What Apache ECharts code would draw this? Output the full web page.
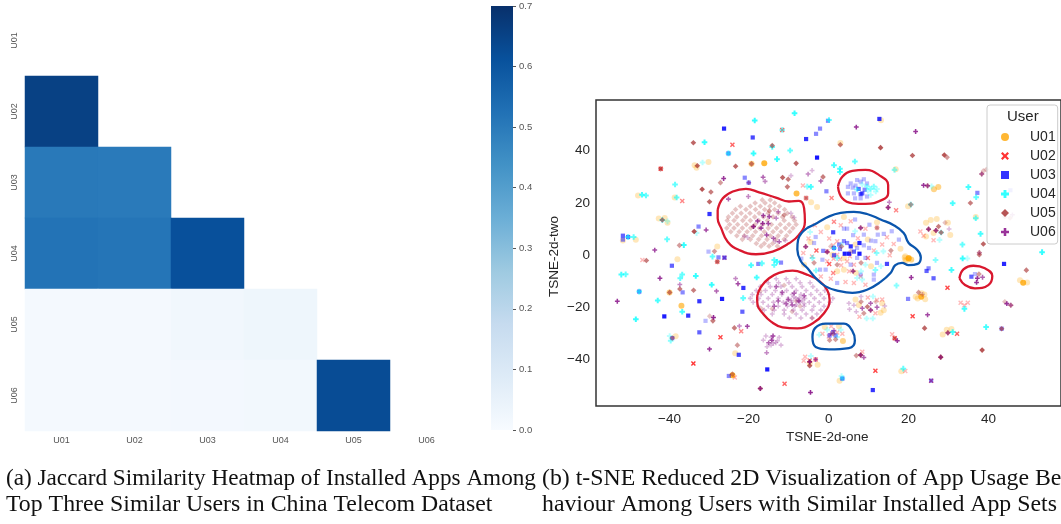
<!DOCTYPE html>
<html><head><meta charset="utf-8">
<style>html,body{margin:0;padding:0;background:#fff;overflow:hidden}#c{width:1061px;height:524px}</style>
<script src="https://cdn.jsdelivr.net/npm/echarts@6/dist/echarts.min.js"></script>
</head><body><div id="c"></div>
<script>
const users = ['U01','U02','U03','U04','U05','U06'];
const colorbarTop = [0.7];
const blues = ['#f7fbff','#deebf7','#c6dbef','#9ecae1','#6baed6','#4292c6','#2171b5','#08519c','#08306b'];
// row user, column user, Jaccard similarity
const jaccard = [
 ['U01','U02',0.655],
 ['U01','U03',0.505],['U02','U03',0.5],
 ['U01','U04',0.52],['U02','U04',0.515],['U03','U04',0.615],
 ['U01','U05',0.012],['U02','U05',0.012],['U03','U05',0.022],['U04','U05',0.03],
 ['U01','U06',0.01],['U02','U06',0.01],['U03','U06',0.015],['U04','U06',0.018],['U05','U06',0.625]
];
// t-SNE points: [one, two, overlapping duplicates]
const u01 = [[-16,34.7,5],[-19.2,34.5,2],[-30,35.2],[-33.5,34],[-33,33],[-47.7,22.4],[-38.5,21.6],[-39.8,-14.7,2],[-36.8,-19.8,3],[-7.9,23.2,4],[-4.25,19.8],[-2.75,18],[3.1,42.5],[13.3,51.2],[-42.5,13.6],[-41,13.8],[-40.3,12],[-48.25,5.4],[-51.5,5.2],[-27.8,2.9],[-37.8,-2],[-38.25,-31.5],[-23.3,-38],[-24,-46.4,5],[2.9,-48.5],[-2.6,-42.4],[-4.6,-41.8],[20.25,-1.7,4],[19.25,-1.3],[19.6,-2.6],[20.9,-2.1],[49,-11,5],[48.2,-10.1],[50,-10.9],[23.4,-16.4,5],[22,-16.4],[24.2,-15.5],[24.4,-17.3],[22.5,-17],[23.5,-15],[28.8,-30.8],[29.8,-29],[31,-28.7],[26.6,24.8,2],[27.7,25.6,2],[17,32.4],[20.1,18.3],[37.1,14.2],[18.4,-44.9],
 [24.6,12],[25.8,13],[27.3,13.4],[30.1,12],[30.7,7.3],[24.6,6.7],[26.5,8],
 [6.9,-17.4],[13.6,-18.9],[14,-21.5],[13.2,-22.5],[7.75,-19.5],
 [-0.8,-28],[2.75,-27.7],[3.75,-33.3,2],
 [4,14.2],[12.3,12.1],[18.2,2],[-0.2,10.2],[-6,-4.1],[2.3,-6.6],[4,-6],[10.8,-4.7],[20.25,-1.5,3],[19.4,-2.2],[19.4,-0.9],[20.9,-2.2],[10,5.5],[6.9,3.6],[4,-1.5],[1.1,-0.3],[7,-7.2],[-4.4,4.6]];
const u02 = [[-11.5,47.5,3],[-24,41.8,3],[-42,32.6,4],[-36.6,20.3,2],[-6.3,26.2],[-5.5,21.4,2],[-46.6,-2.3],[-27.8,-3,2],[-26,-1.4,2],[-27,-31.9,4],[-33.8,-41.9,5],[-10.9,-49.7,3],[-21.8,-29.6,2],[-5.75,-39.3],[-4.6,-40.8,2],[-3.1,-40.4,2],[-6.1,-40.9],[11.9,-44.7,4],[19.4,-44.8],[25.9,-48.5,3],[21.25,-23.8,4],[30,-12.9,4],[33.3,-18.7],[35.1,-18.7],[34.25,-19.6],[32.4,-30.5,3],[16.1,-30.7],[16.75,-32.3,4],[8.6,-37.4],[17.1,16.7,2],[0.9,21.4,2],[23.2,8.6],[24,7],[26.5,5.3],[-23.4,-47.3],
 [7.9,-24],[10,-16.7],[11.9,-22.7],[13.6,-17.4],[12.3,-17.6],
 [0.8,-27.7],[2.3,-30.1],[-1.4,-30.5],[3.6,-30.5],[0.2,-31.6],
 [1.5,12.3,2],[3.2,11],[-3.3,11],[9.4,9.7],[-1.8,8.4],[-4.9,5.9],[0.3,5.9],[1.3,3.3],[-2.9,1.3,3],[-6.2,0.4],[-0.2,1],[2.3,-0.3],[0.3,-3.8,3],[1.3,-7.3,2],[-1.8,-8.6],[0.7,-9.5],[4.4,-10.7],[6.5,-11.1],[9.4,-11.8],[4.8,-2.8],[6.5,-4.1],[10,-1.5,2],[5.3,-6.6],[14.8,6.4],[16.5,3.8],[13.6,3.6],[12.3,10],[8.2,-8.6],[3.3,-4.3],[5.7,12.5],[-0.2,-2.8],[11.5,1.3],[2.3,4.9],[3,-2],[5.5,-0.9],[1.4,-1.8],[7.5,6],[15.5,-0.5],[-4,-1]];
const u03 = [[-26.1,48,6],[-18.9,44.6,4],[-5.5,44,5],[-2,48,2],[0,51,2],[-3,46,2],[-25,38.5,3],[-2.75,36.9,8],[12.9,51.7,5],[-20.9,29.2,2],[-19.9,27.3,2],[-0.4,24,2],[-29.75,15.3,5],[-32.5,10.5,2],[-51.5,7,3],[-50.2,6.5,3],[-51.5,5.5,2],[-39.2,-4.5,3],[-30,0.9],[-27.5,-1.3,2],[-26,-1.4,3],[-17.5,-3.8,2],[-11.8,-3.3,2],[-36.5,-14.7,2],[-21.25,-13,5],[-32.3,-18.1,5],[-26.6,-17.2,7],[-47.4,-14.4,3],[-41.1,-23.9,7],[-35.1,-23.6,5],[-21.5,-22.1,3],[-32.3,-30,3],[-39.1,-32.2,2],[-22.4,-38.6,4],[-15.25,-44.2,7],[-24.9,-46.7,2],[-30.75,-25.6],[3.6,-47.7,3],[11.25,-52.1,5],[25.25,-5.5,2],[24.75,-6.5,3],[26.5,-9.3,3],[20.1,-17.2,2],[44.2,-3.8,6],[36,-8.7,3],[36.9,-7.7],[25.9,-48.5,2],[37.5,23.4,2],[45.8,24.4],[43.6,-28.6,2],
 [5,25.7],[5.7,27],[6.2,25.4],[6.5,23.2],[5,23.2],[7.3,28.3],[8.2,27.7],[9,28.6],[9.8,27],[6.8,21.3],[8.2,21.3],[9.8,22],[6.9,26.2],[7.7,24.9,3],[8.6,23.2,3],[8.2,22.9,3],[9.2,24.6,2],
 [1.3,-29.9,2],[0.4,-31.2,2],[1.9,-31.2,2],
 [6.8,13.2],[10.4,11.2],[4,9.7],[1.3,8.3,4],[6.3,7.2],[9,7.4],[-3.1,6.5],[-3.5,4.2],[-6.7,-1.8],[-1.4,-2.2],[-2,-6],[-0.6,-6],[2.3,-11.1],[11.5,-9.8],[11.5,-7.9],[8.2,-7.9],[9.4,-1.5],[17.8,5.5],[16,8.7],[14.8,-3.8,4],[12.3,-3.4],[10.8,5.1],[11.9,4.9],[7.3,2.3],[4.2,0.1,7],[5.3,0.1,7],[7.9,0.1,7],[7.9,4.2,6],[5.7,2.9,5],[4,4.9,2],[2.8,3.6,2],[4.8,4.2,2],[9,3.3],[10.3,2.3],[5.7,-4.1],[7.3,-1.5],[1.5,2.3,3],[1.5,-0.5,3],[4.8,9.7],[14,7.7],[12.5,7.4],[-1.2,1.2,2],[3,1.9,2],[6.5,0.9,3]];
const u04 = [[-8.4,53.9,5],[-18.4,51.1,5],[-31,42.8,5],[-14,41,3],[-25,38.5,3],[-18.7,38.5,5],[-12.8,36.3,5],[-9.5,39.6,3],[-11.5,47.5,2],[-31.5,35],[-38.4,26.6,3],[-46.7,22.7,4],[-45.7,22.4,3],[-38,21.6,3],[-4.3,25.7,4],[-5.2,25.8,2],[0.25,51.3,3],[-50.2,6.5,3],[-48.8,6.5,3],[-40.4,5.6,3],[-36.2,3.4,5],[-41.6,13,3],[-40.3,12.5],[-33,8],[-51.9,-7.9,4],[-50.8,-7.8,3],[-36.6,-7.9,3],[-37.1,-9.3,3],[-33.2,-8.4,5],[-29.2,-11.8,5],[-29,-1,3],[-47.4,-14.4,3],[-42.75,-17.8,4],[-21.3,-16.9,3],[-36.6,-22.1,4],[-48.25,-25,5],[-39.75,-31.4],[-39.5,-33.2,2],[-19.3,-4.3,4],[-16.6,-3.6,3],[-17.9,-9,4],[-13.5,-2.3,3],[-12.8,-3,4],[-13.5,-4.2,3],[-4.3,-39.1],[6.75,35.4,3],[1.5,34,4],[3,32.6,4],[3,31.4,4],[16.7,32.2,2],[26,25.9],[35.25,25.6,4],[37.2,21.7,3],[31.3,19.4,4],[20.8,18.9,2],[37.1,13.7,3],[38.3,7.7,4],[33.75,3.6,3],[33.8,-1.7,5],[35,-1.7],[31,-6.1,4],[34.25,-21,4],[39.7,-28,4],[31.3,-29.9,4],[17.2,-12.1,2],[18.9,-43.9,3],[3.4,-46.7],[3.6,-47.7,2],[27,-2.3,2],[53.75,0.7,5],
 [9.7,-24.7],[11.25,-24.7],[11.3,-16.3],[28,5.4],[28.4,8.2,2],
 [-2.2,-30.9],[-0.2,-29],[3.2,-29],[2.3,-31.8],
 [9.8,25.8,2],[10.7,24.9,2],[11.5,25.8,2],[12,23.9],[10.7,22.6],[12.3,24.9],[10,24.2],[8.6,26.6],[7.3,24.7,2],
 [-4.5,8.4],[-3.9,-1.5,2],[-3,-6.3,2],[2.3,-1.5,2],[1.5,2.3,2],[8.3,-6.6],[7.3,-9.2],[13.3,-4.7],[13.9,1],[11.9,-6.1,2],[12.2,0.4,2],[6.8,8.7],[9.4,-4.1],[3.4,3.6],[8.6,-9.8]];
const u05 = [[-33.8,42.6,4],[-14,41.5,3],[-8,34.7,4],[-19.2,34.5,3],[-23.2,33.6,4],[-32.8,33.8,4],[-11.4,29.3,4],[-10,28.6,3],[-1.25,29.5,3],[-27,27.3,2],[-31.6,24.8,5],[-29.4,23.7,3],[-29.75,20,4],[-10.2,25.7,3],[-5.5,21.4,2],[-33.6,8.6,5],[-41.6,13,3],[-42,32.6,3],[-37.3,3.3,2],[-28.5,1,2],[-45.6,-2.5,3],[-27.8,-3,3],[-37.2,-13.4,3],[-39.75,-14.7,3],[-33.75,-13.9,3],[-29.7,-23.8],[-28.9,-25.6,3],[-23.5,-28.3,3],[-39.1,-32.2,2],[-22.75,-34.9,2],[-24,-46,2],[-17,-51.5,3],[-4.6,-42.8,4],[-4.6,-41.3,3],[3.1,41.8,3],[13.2,40.7,5],[21.2,37.7,4],[29.2,37.9,5],[29.9,37,2],[7.1,-38.9,2],[8.2,-38.7,4],[28.3,-39.5,5],[38.7,-36.8,5],[24.25,-28.4,4],[16.75,-32.3,2],[38,-0.3,3],[39,3.8,4],[38,0.5,2],[49.8,-6.2,3],[39,31.8],[38.6,30.6,2],[39.75,32.3],[35.75,19.5,3],[22.75,-14.7,2],[37.9,-7.7,2],[44.4,-18.3],[45.9,-19.6,2],[25,26.1,2],[30.1,-30.2,3],[43.6,-28.6,3],[20.8,18.9,2],[15.1,17.8,2],[44.4,14.3],[45.7,13.8],
 [25.25,9.5,3],[27.1,9,3],[27.75,10.5,3],[28.4,8.2,3],[29.4,12],
 [9,-22.7,2],[10.7,-21.5,2],[9.9,-20.2,3],[8.3,-18.3,2],[12,-18.3],
 [1.25,-30.5,2],[0.4,-33,2],[1.9,-32.7,2],
 [-5.6,2.8,2],[-0.2,0.8,2],[3.4,2.9,2],[8.2,10,2],[12.3,10,2],[15.8,1.3,2],[8.3,-3.4,2],[6.3,-6.6,2],[2.3,-4.1,2],[-3.5,-3.4,2],[0.7,2.9],[5.7,1],
 [-16.5,20.7],[-14.5,20.7],[-18.3,19.5],[-15.8,19.5],[-13.4,19.5],[-22,18.3],[-19.5,18.3],[-17,18.3],[-14.6,18.3],[-12.2,18.3],[-23.2,17],[-20.6,17],[-18.2,17],[-15.9,17],[-13.4,17],[-10.9,17],[-24,15.6],[-21.8,15.6],[-19.6,15.6],[-17.3,15.6],[-15,15.6],[-12.5,15.6],[-10.2,15.6],[-25,14.2],[-22.9,14.2],[-20.7,14.2],[-18.4,14.2],[-16.2,14.2],[-13.8,14.2],[-11.4,14.2],[-9,14.2],[-25.3,12.8],[-23.6,12.8],[-21.4,12.8],[-19.5,12.8],[-17.4,12.8],[-15.2,12.8],[-11,12.8],[-8.4,12.8],[-24.7,11.3],[-22.7,11.3],[-20.5,11.3],[-18.3,11.3],[-16.4,11.3],[-14.2,11.3],[-12,11.3],[-9.8,11.3],[-8,11.3],[-25.4,9.9],[-23.6,9.9],[-21.5,9.9],[-19.4,9.9],[-17.2,9.9],[-15,9.9],[-12.9,9.9],[-10.7,9.9],[-8.8,9.9],[-24.4,8.5],[-22.3,8.5],[-20.3,8.5],[-18.2,8.5],[-16,8.5],[-13.8,8.5],[-11.8,8.5],[-9.6,8.5],[-22.9,7],[-21,7],[-18.9,7],[-16.7,7],[-14.5,7],[-12.5,7],[-10.4,7],[-21.5,5.6],[-19.5,5.6],[-17.4,5.6],[-15.3,5.6],[-13.1,5.6],[-11,5.6],[-18,4],[-16,4],[-13.9,4],[-16.8,3],[-14.8,3],[-12.7,3],[-14.75,16.5,2],[-11,14.9,2],[-18.75,10.5,2],
 [-17,-14.2],[-11,-12],[-8,-18],[-9,-22],[-4,-24.5],[-7,-20],[-14,-21],[-16.7,-21]];
const u06 = [[7.1,48.6,5],[22,46.9,5],[-26.2,28.9,5],[-16.3,29.4,3],[-15.8,27.8,2],[-9.3,30],[-5,30.6,2],[-4,32],[-1.8,27.9,3],[-25,21,3],[-20,22,2],[-30.6,9.2,4],[-43.5,1.5,4],[-42.2,-9.3,5],[-23.2,-9.4,2],[-22.6,-11.4,4],[-37.2,-11.7,2],[-28,-14.2,3],[-52.9,-18.1,5],[-28.75,-24.3,6],[-20.25,-27.7,4],[-22.25,-27.6,2],[-29.75,-36.4,5],[-15.4,-37.8,2],[-17,-51.5,4],[-4.4,-53,6],[-4.6,-41.3,4],[-3.1,-40.4,3],[15.4,19.8,2],[15.1,17.8,4],[24,26.3,5],[25,26.1,3],[20.9,-9,5],[37.5,-9.3,5],[38.8,-8.9,3],[37.3,-10.9,5],[44.9,-19,5],[45.9,-19.6,2],[8.2,-38.7,3],[9,-39.6,3],[17.4,-33.2,5],[25,-23.3,4],[28.3,-39.5,3],[30.1,-30.2,2],[38.6,30.6,2],[46.3,15],[38,0.5],[23.7,-15.5],[-19.9,27.3,2],
 [-16.25,-33],[-15.6,-31.4],[-14.3,-31.9],[-13.8,-31.4,4],[-14.1,-33,4],[-12.25,-31.9],[-12.7,-33.2],[-14.9,-34,3],[-14.3,-34.9],[-15.3,-35.5],[-11.8,-34.9],[-13.7,-34.2],[-13.1,-34],
 [8.6,-20.8,3],[10.7,-18.9,3],[12.3,-20.4,3],[10.7,-21.5,3],[8.3,-16.3],[5.25,-18.9],[5.4,-21.2],[6.5,-19.6],[7.1,-22.1],[14.25,-19.9],
 [30.4,9.6],[25.25,9.5,3],[27.1,9,3],
 [0.67,-30.5,2],[1.5,-29.3,2],
 [8.2,10,3],[-5.6,2.8,3],[-0.2,0.8,3],[6.3,-6.6,3],
 [-16.25,14.7,4],[-14.75,14.3,4],[-17.7,12.6,4],[-16.4,11.7,5],[-15,11.7,4],[-18.7,10.5,5],[-16.8,9.9,4],[-15.4,7.3,4],[-13.7,6,3],[-12.25,4.7,3],[-20.2,6.3],[-21,6.8],[-13,13.7,2],[-12.5,16.2,2],[-9.3,15.6],[-8.5,14],[-13.2,4.8],[-10.7,5.2],
 [-13,-9.5],[-10.5,-9.5],[-8,-9.5],[-15,-11],[-12.4,-11],[-9.8,-11],[-7,-11],[-4.5,-11],[-17,-12.5],[-14.5,-12.5],[-11.8,-12.5],[-9,-12.5],[-6.5,-12.5],[-3.8,-12.5],[-18,-14],[-15.7,-14],[-13.2,-14],[-10.4,-14],[-8,-14],[-5.5,-14],[-2.8,-14],[-0.8,-14],[-19,-15.5],[-16.8,-15.5],[-14,-15.5],[-11.6,-15.5],[-9,-15.5],[-6.8,-15.5],[-4.3,-15.5],[-1.9,-15.5],[0.2,-15.5],[-19.5,-17],[-17.4,-17],[-15,-17],[-12.5,-17],[-10,-17],[-8,-17],[-5.8,-17],[-3.4,-17],[-1,-17],[1.2,-17],[-18.8,-18.5],[-16.3,-18.5],[-13.7,-18.5],[-11.2,-18.5],[-9.2,-18.5],[-7,-18.5],[-4.7,-18.5],[-2.2,-18.5],[0.5,-18.5],[-17.5,-20],[-15,-20],[-12.5,-20],[-10.2,-20],[-8.3,-20],[-6,-20],[-3.6,-20],[-1,-20],[-16,-21.5],[-13.5,-21.5],[-11,-21.5],[-8.7,-21.5],[-6.5,-21.5],[-4,-21.5],[-1.8,-21.5],[-14,-23],[-11,-23],[-8,-23],[-5.5,-23],[-2.8,-23],[-9.7,-24.5],[-6.8,-24.5],[-4,-24.5],
 [-9.2,-17.8],[-8.6,-16.5],[-7.6,-18],[-7.2,-16.8],[-8,-19.4],[-6.4,-17.6],[-6,-19],
 [-13,-12.5,3],[-11.5,-14.7,3],[-10,-17.5,3],[-9,-19.5,3],[-10.5,-19,3],[-8.5,-15,3],[-7.3,-18,3],[-6,-16,3],[-12.5,-18,3],[-13.5,-20,3]];
const userPoints = [u01,u02,u03,u04,u05,u06];
// hand-drawn outlines
const redA = [[-27.7,16.9],[-26.4,21.3],[-23.9,23.9],[-20.6,24.9],[-17.3,23.6],[-13.1,21.6],[-9.8,20.1],[-7.3,20.3],[-6,17.5],[-5.8,12.4],[-7.3,7.3],[-9.8,4.1],[-13.9,0.9],[-18.1,-0.1],[-22.3,1.5],[-25.2,4.7],[-26.8,9.8],[-27.7,13.7],[-27.7,16.9]];
const redB = [[-17.8,-16.3],[-16.8,-12.5],[-14.8,-9.3],[-12.3,-7.2],[-8.9,-6.4],[-5.6,-7.7],[-2.3,-10.2],[-0.2,-13.8],[0.4,-17.6],[-1,-22.7],[-3.9,-26.6],[-7.7,-28.5],[-11.4,-28.1],[-14.3,-25.9],[-16.4,-22.7],[-17.7,-19.5],[-17.8,-16.3]];
const redC = [[2.5,25.8],[3.6,29.6],[6.1,31.8],[9.4,32.2],[12.75,30.3],[15.1,26.4],[15.1,23.2],[13.6,20.7],[9.4,19.2],[6.1,19.4],[3.6,21.3],[2.5,25.8]];
const redD = [[33,-9.3],[34,-5.9],[36.5,-4.5],[39.4,-5.5],[41.25,-8.4],[40.25,-11.9],[36.9,-13.2],[34.4,-11.9],[33,-9.3]];
const blueA = [[-5.2,10],[-2.7,11.9],[0.3,14.4],[3.2,15.7],[6.5,16.1],[9.8,15.3],[13.2,13.2],[16.5,11],[19,8],[20.25,4.2],[22.3,1.7],[23.3,-1.3],[22.5,-3.8],[20.25,-4.3],[18.6,-3.4],[16.9,-4.3],[15.7,-7.3],[13.2,-10.7],[9.8,-13.7],[6.1,-14.9],[2.3,-14],[-0.6,-12.4],[-3.1,-9.2],[-5.2,-5.4],[-6.8,-2.8],[-7.7,1.7],[-7.5,5.5],[-5.2,10]];
const blueB = [[-3.9,-31.8],[-3.25,-28.4],[-0.6,-26.7],[4,-26.7],[6.1,-29.4],[6.75,-33.1],[5.25,-36],[0.25,-36.5],[-3.1,-35.6],[-3.9,-31.8]];

const xShape = 'path://M2 0L5 3L8 0L10 2L7 5L10 8L8 10L5 7L2 10L0 8L3 5L0 2Z';
const fatPlus = 'path://M3.2 0H6.8V3.2H10V6.8H6.8V10H3.2V6.8H0V3.2H3.2Z';
const thinPlus = 'path://M3.4 0H6.6V3.4H10V6.6H6.6V10H3.4V6.6H0V3.4H3.4Z';
const looks = [
 {color:'#ffa500',symbol:'circle',size:6},
 {color:'#ff0000',symbol:xShape,size:5},
 {color:'#0000ff',symbol:'rect',size:4.2},
 {color:'#00ffff',symbol:fatPlus,size:5.6},
 {color:'#a52a2a',symbol:'diamond',size:5.6},
 {color:'#800080',symbol:thinPlus,size:4.8}
];
const alpha = 0.27;
const sans = '"Liberation Sans",Arial,sans-serif';
const capFont = '"Liberation Serif",serif';

const scatterSeries = users.map((u,i)=>({
  name:u,type:'scatter',xAxisIndex:2,yAxisIndex:2,
  symbol:looks[i].symbol,symbolSize:looks[i].size,
  itemStyle:{color:looks[i].color},
  data:userPoints[i].map(p=>({value:[p[0],p[1]],itemStyle:{opacity:1-Math.pow(1-alpha,p[2]||1)}})),
  z:3
}));
const outline = (data,color)=>({type:'line',xAxisIndex:2,yAxisIndex:2,data,smooth:0.45,symbol:'none',
  lineStyle:{color,width:2.3},silent:true,z:5});

const chart = echarts.init(document.getElementById('c'),null,{renderer:'canvas'});
chart.setOption({
  animation:false,backgroundColor:'#fff',
  grid:[
    {left:25,top:5,width:438,height:426},
    {left:491,top:6,width:22,height:424},
    {left:596,top:100,width:467,height:306,show:true,borderColor:'#333',borderWidth:1.5,backgroundColor:'#fff'}
  ],
  xAxis:[
    {gridIndex:0,type:'category',data:users,axisLine:{show:false},axisTick:{show:false},splitLine:{show:false},
     axisLabel:{color:'#555',fontFamily:sans,fontSize:9,margin:5}},
    {gridIndex:1,type:'category',data:['scale'],show:false},
    {gridIndex:2,type:'value',min:-58.25,max:58.5,show:true,axisLine:{show:false},axisTick:{show:false},splitLine:{show:false},
     axisLabel:{show:false}}
  ],
  yAxis:[
    {gridIndex:0,type:'category',data:users,inverse:true,axisLine:{show:false},axisTick:{show:false},splitLine:{show:false},
     axisLabel:{color:'#555',fontFamily:sans,fontSize:9,rotate:90,margin:6}},
    {gridIndex:1,type:'value',min:0,max:0.7,interval:0.1,position:'right',axisLine:{show:false},
     axisTick:{show:true,length:3,lineStyle:{color:'#555',width:1}},splitLine:{show:false},
     axisLabel:{color:'#555',fontFamily:sans,fontSize:9.5,margin:6,formatter:v=>v.toFixed(1)}},
    {gridIndex:2,type:'value',min:-58.2,max:58.95,show:true,axisLine:{show:false},axisTick:{show:false},splitLine:{show:false},
     axisLabel:{show:false}}
  ],
  visualMap:{show:false,seriesIndex:0,dimension:2,min:0,max:0.7,inRange:{color:blues}},
  legend:{
    left:987,top:105,orient:'vertical',padding:[25,2,5,14],itemGap:5,itemWidth:8,itemHeight:8,
    data:users,backgroundColor:'rgba(255,255,255,0.8)',borderColor:'#ccc',borderWidth:1,borderRadius:3,
    textStyle:{color:'#262626',fontFamily:sans,fontSize:14,padding:[0,0,0,16],lineHeight:14},
    z:10,selectedMode:false
  },
  graphic:[
    {type:'text',left:1007,top:109,z:100,style:{text:'User',font:'15px '+sans,fill:'#262626'}},
    {type:'text',left:786,top:430,z:100,style:{text:'TSNE-2d-one',font:'13.5px '+sans,fill:'#262626'}},
    {type:'text',left:547,top:216,rotation:Math.PI/2,z:100,style:{text:'TSNE-2d-two',font:'13.5px '+sans,fill:'#262626'}},
    ...[-40,-20,0,20,40].map((v,i)=>({type:'text',z:100,left:[658,737,825,901,981][i],top:412,style:{text:String(v).replace('-','\u2212'),font:'13.5px '+sans,fill:'#262626'}})),
    ...[40,20,0,-20,-40].map((v,i)=>({type:'text',z:100,right:1061-590,top:[143,196,248,300,352][i],style:{text:String(v).replace('-','\u2212'),font:'13.5px '+sans,fill:'#262626'}})),
    {type:'text',left:6,top:467,z:100,style:{text:'(a) Jaccard Similarity Heatmap of Installed Apps Among',font:'23.2px '+capFont,fill:'#111'}},
    {type:'text',left:6,top:493,z:100,style:{text:'Top Three Similar Users in China Telecom Dataset',font:'23.8px '+capFont,fill:'#111'}},
    {type:'text',left:542,top:467,z:100,style:{text:'(b) t-SNE Reduced 2D Visualization of App Usage Be-',font:'23.8px '+capFont,fill:'#111'}},
    {type:'text',left:542,top:493,z:100,style:{text:'haviour Among Users with Similar Installed App Sets',font:'23.8px '+capFont,fill:'#111'}}
  ],
  series:[
    {type:'heatmap',xAxisIndex:0,yAxisIndex:0,data:jaccard,progressive:0,itemStyle:{borderWidth:0}},
    {type:'bar',xAxisIndex:1,yAxisIndex:1,data:colorbarTop,barWidth:'100%',silent:true,
     itemStyle:{color:{type:'linear',x:0,y:1,x2:0,y2:0,colorStops:blues.map((c,i)=>({offset:i/(blues.length-1),color:c}))}}},
    ...scatterSeries,
    outline(redA,'#d9182e'),outline(redB,'#d9182e'),outline(redC,'#d9182e'),outline(redD,'#d9182e'),
    outline(blueA,'#0a55ad'),outline(blueB,'#0a55ad')
  ]
});
</script></body></html>
